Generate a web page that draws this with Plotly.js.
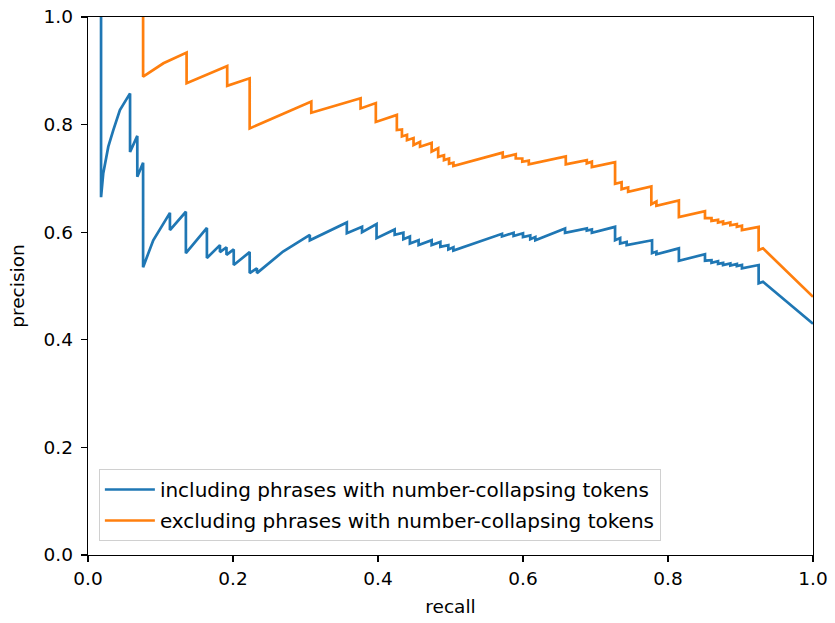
<!DOCTYPE html>
<html>
<head>
<meta charset="utf-8">
<script src="https://cdn.plot.ly/plotly-3.0.1.min.js"></script>
<style>html,body{margin:0;padding:0;background:#fff}#chart{width:835px;height:623px}</style>
</head>
<body>
<div id="chart"></div>
<script>
// Series 1: including phrases with number-collapsing tokens
var recallIncl = [0.018,0.018,0.021,0.028,0.035,0.044,0.058,0.058,0.068,0.068,0.076,0.076,0.090,0.113,0.113,0.135,0.135,0.164,0.164,0.182,0.182,0.191,0.191,0.201,0.201,0.223,0.223,0.233,0.233,0.269,0.306,0.306,0.357,0.357,0.378,0.378,0.398,0.398,0.423,0.423,0.435,0.435,0.444,0.444,0.456,0.456,0.474,0.474,0.486,0.486,0.497,0.497,0.504,0.504,0.571,0.571,0.587,0.587,0.600,0.600,0.610,0.610,0.617,0.617,0.658,0.658,0.688,0.688,0.695,0.695,0.727,0.727,0.734,0.734,0.743,0.743,0.778,0.778,0.784,0.784,0.815,0.815,0.851,0.851,0.860,0.860,0.869,0.869,0.876,0.876,0.886,0.886,0.895,0.895,0.902,0.902,0.925,0.925,0.931,1.000];
var precisionIncl = [1.000,0.665,0.709,0.759,0.790,0.827,0.858,0.749,0.779,0.703,0.729,0.535,0.585,0.636,0.604,0.638,0.561,0.608,0.552,0.576,0.563,0.572,0.558,0.568,0.539,0.563,0.524,0.533,0.524,0.564,0.595,0.585,0.618,0.598,0.610,0.600,0.615,0.589,0.605,0.595,0.599,0.587,0.592,0.579,0.585,0.576,0.585,0.576,0.582,0.573,0.576,0.568,0.572,0.566,0.597,0.592,0.599,0.593,0.598,0.591,0.594,0.587,0.591,0.585,0.607,0.599,0.607,0.603,0.605,0.599,0.610,0.585,0.589,0.579,0.582,0.576,0.585,0.561,0.564,0.559,0.570,0.547,0.559,0.547,0.548,0.543,0.546,0.541,0.543,0.539,0.542,0.538,0.541,0.537,0.539,0.533,0.539,0.505,0.508,0.430];

// Series 2: excluding phrases with number-collapsing tokens
var recallExcl = [0.076,0.076,0.104,0.136,0.136,0.192,0.192,0.223,0.223,0.260,0.308,0.308,0.376,0.376,0.397,0.397,0.426,0.426,0.433,0.433,0.440,0.440,0.449,0.449,0.458,0.458,0.474,0.474,0.483,0.483,0.491,0.491,0.498,0.498,0.504,0.504,0.572,0.572,0.590,0.590,0.599,0.599,0.608,0.608,0.659,0.659,0.688,0.688,0.695,0.695,0.727,0.727,0.736,0.736,0.745,0.745,0.777,0.777,0.784,0.784,0.815,0.815,0.851,0.851,0.860,0.860,0.869,0.869,0.876,0.876,0.886,0.886,0.895,0.895,0.902,0.902,0.925,0.925,0.931,1.000];
var precisionExcl = [1.000,0.889,0.914,0.934,0.877,0.909,0.872,0.886,0.793,0.815,0.843,0.822,0.849,0.830,0.840,0.805,0.818,0.790,0.791,0.778,0.781,0.771,0.775,0.762,0.768,0.759,0.766,0.750,0.756,0.740,0.743,0.734,0.737,0.727,0.729,0.723,0.748,0.739,0.745,0.737,0.737,0.731,0.733,0.726,0.741,0.726,0.734,0.728,0.731,0.721,0.730,0.690,0.693,0.680,0.683,0.675,0.685,0.652,0.657,0.649,0.659,0.628,0.639,0.626,0.626,0.621,0.623,0.618,0.620,0.615,0.618,0.613,0.615,0.610,0.612,0.604,0.610,0.567,0.570,0.480];

var seriesNames = ["including phrases with number-collapsing tokens","excluding phrases with number-collapsing tokens"];
var xTicks = [0.0,0.2,0.4,0.6,0.8,1.0];
var yTicks = [0.0,0.2,0.4,0.6,0.8,1.0];

var font = {family: "DejaVu Sans", size: 18.5, color: "#000"};
var legendFont = {family: "DejaVu Sans", size: 20, color: "#000"};

var traces = [
  {x: recallIncl, y: precisionIncl, mode: "lines", name: seriesNames[0], legendgroup: "a", line: {color: "#1f77b4", width: 2.7}},
  {x: recallExcl, y: precisionExcl, mode: "lines", name: seriesNames[1], legendgroup: "b", line: {color: "#ff7f0e", width: 2.7}}
];

var layout = {
  width: 835, height: 623,
  margin: {l: 88, r: 22, t: 17, b: 68},
  paper_bgcolor: "#fff", plot_bgcolor: "#fff",
  font: font,
  showlegend: true,
  legend: {x: 0.015, y: 0.026, xanchor: "left", yanchor: "bottom", bgcolor: "#fff", bordercolor: "#d0d0d0", borderwidth: 1, font: legendFont, traceorder: "grouped", tracegroupgap: 2, itemwidth: 50},
  xaxis: {
    range: [0, 1], tickvals: xTicks, ticktext: xTicks.map(function(v){return v.toFixed(1);}),
    ticks: "outside", ticklen: 6, tickwidth: 1.3, tickcolor: "#000",
    showline: true, linecolor: "#000", linewidth: 1.3, mirror: true,
    showgrid: false, zeroline: false, fixedrange: true,
    title: {text: "recall", font: font, standoff: 12}
  },
  yaxis: {
    range: [0, 1], tickvals: yTicks, ticktext: yTicks.map(function(v){return v.toFixed(1);}),
    ticks: "outside", ticklen: 6, tickwidth: 1.3, tickcolor: "#000",
    ticklabelstandoff: 4,
    showline: true, linecolor: "#000", linewidth: 1.3, mirror: true,
    showgrid: false, zeroline: false, fixedrange: true,
    title: {text: "precision", font: font, standoff: 14}
  }
};

Plotly.newPlot("chart", traces, layout, {displayModeBar: false, staticPlot: true});
</script>
</body>
</html>
